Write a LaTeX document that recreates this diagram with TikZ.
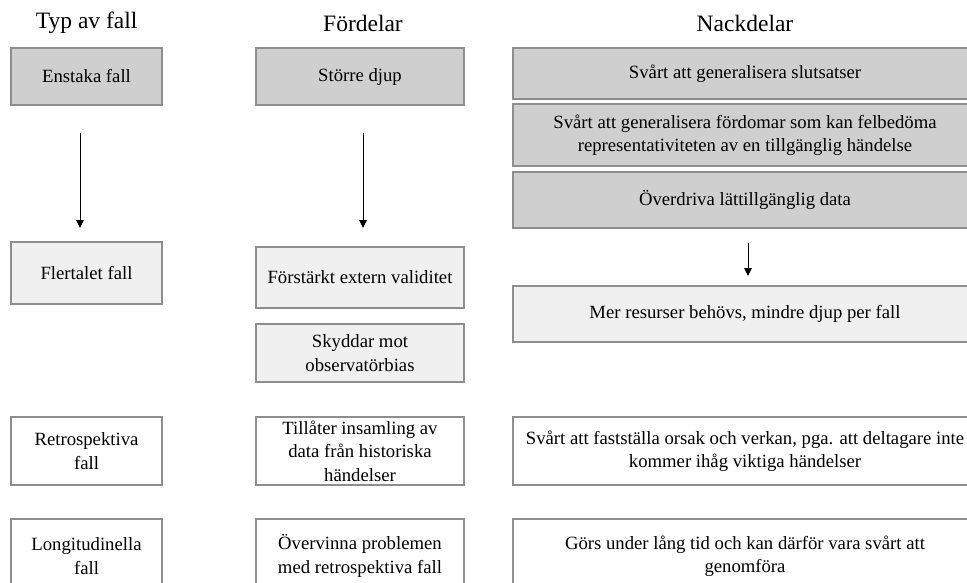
\documentclass[tikz,border=0pt]{standalone}
\usepackage{fontspec}
\setmainfont{Liberation Serif}
\usetikzlibrary{arrows.meta}
\definecolor{boxdark}{HTML}{CFCFCF}
\definecolor{boxlight}{HTML}{F0F0F0}
\definecolor{boxline}{HTML}{8E8E8E}
\tikzset{
  cell/.style={draw=boxline, line width=1.4pt, rectangle, inner sep=0pt,
    align=center, font=\fontsize{18.7}{23.5}\selectfont},
  darkcell/.style={cell, fill=boxdark},
  lightcell/.style={cell, fill=boxlight},
  whitecell/.style={cell, fill=white},
  colhead/.style={font=\fontsize{23.5}{28}\selectfont, inner sep=0pt},
  flow/.style={line width=1pt, -{Triangle[length=8pt,width=7.5pt]}},
}
\begin{document}
\begin{tikzpicture}[x=1pt,y=-1pt]
\useasboundingbox (0,0) rectangle (967,582);
\clip (0,0) rectangle (967,582);
\fill[white] (0,0) rectangle (967,582);

% column headings
\node[colhead] (h1) at (86.7,23) {Typ av fall};
\node[colhead] (h2) at (363,23) {Fördelar};
\node[colhead] (h3) at (745,23) {Nackdelar};

% column 1: type of case
\node[darkcell, minimum width=151pt, minimum height=57pt] (enstaka) at (86.5,76.5) {Enstaka fall};
\node[lightcell, minimum width=151pt, minimum height=62pt] (flertal) at (86.5,273) {Flertalet fall};
\node[whitecell, minimum width=151pt, minimum height=68pt] (retro1) at (86.5,451) {Retrospektiva\\fall};
\node[whitecell, minimum width=151pt, minimum height=74pt] (longi1) at (86.5,556) {Longitudinella\\fall};

% column 2: advantages
\node[darkcell, minimum width=208pt, minimum height=57pt] (djup) at (360,76.5) {Större djup};
\node[lightcell, minimum width=208pt, minimum height=61pt] (extern) at (360,277.5) {Förstärkt extern validitet};
\node[lightcell, minimum width=208pt, minimum height=58pt] (skydd) at (360,353) {Skyddar mot\\observatörbias};
\node[whitecell, minimum width=208pt, minimum height=68pt] (insaml) at (360,451) {Tillåter insamling av\\data från historiska\\händelser};
\node[whitecell, minimum width=208pt, minimum height=74pt] (overv) at (360,556) {Övervinna problemen\\med retrospektiva fall};

% column 3: disadvantages
\node[darkcell, minimum width=464pt, minimum height=51pt] (gen1) at (745,73.5) {Svårt att generalisera slutsatser};
\node[darkcell, minimum width=464pt, minimum height=62pt] (gen2) at (745,135) {Svårt att generalisera fördomar som kan felbedöma\\representativiteten av en tillgänglig händelse};
\node[darkcell, minimum width=464pt, minimum height=56pt] (overd) at (745,200) {Överdriva lättillgänglig data};
\node[lightcell, minimum width=464pt, minimum height=56pt] (resurs) at (745,314) {Mer resurser behövs, mindre djup per fall};
\node[whitecell, minimum width=464pt, minimum height=68pt] (orsak) at (745,451) {Svårt att fastställa orsak och verkan, pga. att deltagare inte\\kommer ihåg viktiga händelser};
\node[whitecell, minimum width=464pt, minimum height=74pt] (lang) at (745,556) {Görs under lång tid och kan därför vara svårt att\\genomföra};

% transition arrows from the single-case row to the multiple-case row
\coordinate (a1s) at (80,133);
\coordinate (a1e) at (80,228);
\coordinate (a2s) at (363,133);
\coordinate (a2e) at (363,228);
\coordinate (a3s) at (748,243);
\coordinate (a3e) at (748,276);
\draw[flow] (a1s) -- (a1e);
\draw[flow] (a2s) -- (a2e);
\draw[flow] (a3s) -- (a3e);
\end{tikzpicture}
\end{document}
